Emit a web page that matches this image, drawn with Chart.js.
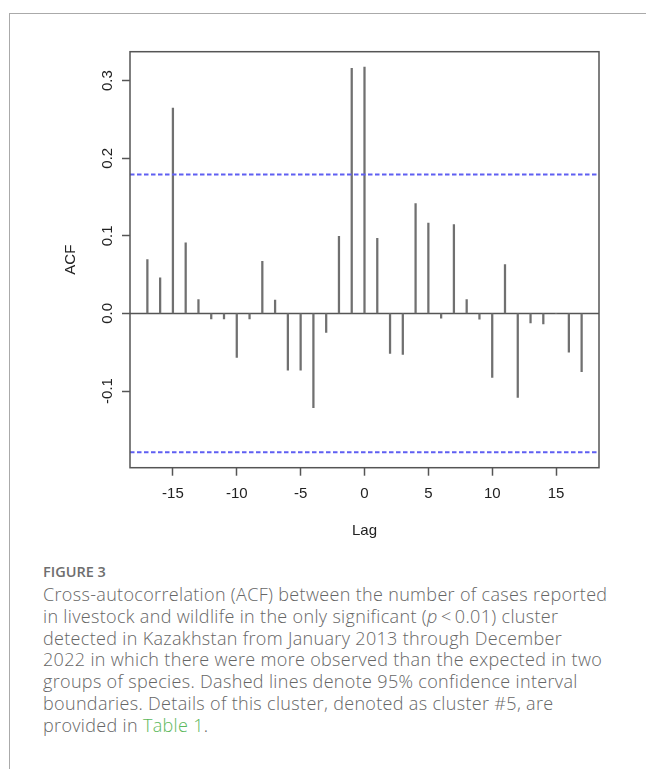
<!DOCTYPE html>
<html lang="en">
<head>
    <meta charset="UTF-8">
    <title>Cross-autocorrelation (ACF)</title>
    <script src="https://cdn.jsdelivr.net/npm/chart.js"></script>
    <style>
        body { margin: 0; width: 646px; height: 769px; background: #fff; position: relative; overflow: hidden; }
        #frame { position: absolute; left: 9px; top: 13px; right: -2px; bottom: -2px; border-top: 1px solid #aaa; border-left: 1px solid #aaa; }
        #chartBox { position: absolute; left: 0; top: 0; width: 646px; height: 550px; }
        .fig-label { position: absolute; left: 43px; top: 561px; font-family: "Open Sans", sans-serif; font-weight: 600; font-size: 14.5px; line-height: 21.7px; color: #6e6e6e; }
        .caption { position: absolute; left: 43px; top: 584px; font-family: "Open Sans", sans-serif; font-weight: 300; font-size: 18px; letter-spacing: 0.33px; line-height: 21.8px; color: #666; white-space: nowrap; margin: 0; }
        .caption a { color: #5cb85c; text-decoration: none; }
    </style>
</head>
<body>
    <div id="frame"></div>
    <div id="chartBox"><canvas id="acfChart" width="646" height="550"></canvas></div>
    <div class="fig-label">FIGURE 3</div>
    <p class="caption">Cross-autocorrelation (ACF) between the number of cases reported<br>in livestock and wildlife in the only significant (<i>p</i>&#8201;&lt;&#8201;0.01) cluster<br>detected in Kazakhstan from January 2013 through December<br>2022 in which there were more observed than the expected in two<br>groups of species. Dashed lines denote 95% confidence interval<br>boundaries. Details of this cluster, denoted as cluster #5, are<br>provided in <a href="#">Table 1</a>.</p>

    <script>
        // lags and cross-correlation values
        const lags = [-17, -16, -15, -14, -13, -12, -11, -10, -9, -8, -7, -6, -5, -4, -3, -2, -1,
                      0, 1, 2, 3, 4, 5, 6, 7, 8, 9, 10, 11, 12, 13, 14, 15, 16, 17];
        const acfValues = [0.0695, 0.0458, 0.2646, 0.0909, 0.0180, -0.0072, -0.0072, -0.0566, -0.0072, 0.0673, 0.0171, -0.0730, -0.0730, -0.1215, -0.0245, 0.0995, 0.3160,
                           0.3174, 0.0969, -0.0515, -0.0528, 0.1416, 0.1166, -0.0060, 0.1145, 0.0180, -0.0073, -0.0824, 0.0631, -0.1081, -0.0121, -0.0134, 0.0000, -0.0498, -0.0751];
        const ciBound = 0.1789; // dashed 95% bounds
        const xTicks = [-15, -10, -5, 0, 5, 10, 15];
        const yTicks = [-0.1, 0.0, 0.1, 0.2, 0.3];
        const xRange = [-18.36, 18.36];
        const yRange = [-0.1988, 0.3373];

        const axisFont = { family: '"Liberation Sans", Arial, sans-serif', size: 15 };
        const axisColor = '#222';
        const lineColor = '#555';

        // box, zero line, CI lines and rotated y labels, like R's plot.acf
        const acfDecor = {
            id: 'acfDecor',
            beforeDatasetsDraw(chart) {
                const { ctx, chartArea: a, scales: { y } } = chart;
                ctx.save();
                ctx.strokeStyle = lineColor;
                ctx.lineWidth = 1.5;
                const y0 = y.getPixelForValue(0);
                ctx.beginPath();
                ctx.moveTo(a.left, y0);
                ctx.lineTo(a.right, y0);
                ctx.stroke();
                ctx.restore();
            },
            afterDraw(chart) {
                const { ctx, chartArea: a, scales: { y } } = chart;
                ctx.save();
                ctx.strokeStyle = '#5f5ff2';
                ctx.lineWidth = 2;
                ctx.setLineDash([4.5, 2.5]);
                [ciBound, -ciBound].forEach(v => {
                    const py = y.getPixelForValue(v);
                    ctx.beginPath();
                    ctx.moveTo(a.left, py);
                    ctx.lineTo(a.right, py);
                    ctx.stroke();
                });
                ctx.setLineDash([]);
                ctx.strokeStyle = lineColor;
                ctx.lineWidth = 1.5;
                ctx.strokeRect(a.left, a.top, a.right - a.left, a.bottom - a.top);

                ctx.fillStyle = axisColor;
                ctx.font = `${axisFont.size}px ${axisFont.family}`;
                ctx.textAlign = 'center';
                ctx.textBaseline = 'alphabetic';
                y.ticks.forEach(t => {
                    ctx.save();
                    ctx.translate(a.left - 18.5, y.getPixelForValue(t.value));
                    ctx.rotate(-Math.PI / 2);
                    ctx.fillText(t.label, 0, 0);
                    ctx.restore();
                });
                ctx.restore();
            }
        };

        new Chart(document.getElementById('acfChart'), {
            type: 'bar',
            data: {
                datasets: [{
                    data: lags.map((l, i) => ({ x: l, y: acfValues[i] })),
                    backgroundColor: '#707070',
                    barThickness: 1.6
                }]
            },
            options: {
                responsive: false,
                animation: false,
                layout: { padding: { left: 55, right: 47, top: 51.7, bottom: 7.3 } },
                plugins: { legend: { display: false }, tooltip: { enabled: false } },
                scales: {
                    x: {
                        type: 'linear',
                        min: xRange[0],
                        max: xRange[1],
                        offset: false,
                        afterBuildTicks: s => { s.ticks = xTicks.map(v => ({ value: v })); },
                        afterFit: s => { s.height = 75; },
                        ticks: { font: axisFont, color: axisColor, padding: 9, maxRotation: 0 },
                        grid: { drawOnChartArea: false, offset: false, tickLength: 8, tickWidth: 1.5, tickColor: lineColor },
                        border: { display: false },
                        title: { display: true, text: 'Lag', font: axisFont, color: axisColor, padding: { top: 0, bottom: 2.8 } }
                    },
                    y: {
                        min: yRange[0],
                        max: yRange[1],
                        afterBuildTicks: s => { s.ticks = yTicks.map(v => ({ value: v })); },
                        afterFit: s => { s.width = 75; },
                        ticks: { display: false, callback: v => v.toFixed(1) },
                        grid: { drawOnChartArea: false, tickLength: 8, tickWidth: 1.5, tickColor: lineColor },
                        border: { display: false },
                        title: { display: true, text: 'ACF', font: axisFont, color: axisColor, padding: { top: 7, bottom: 0 } }
                    }
                }
            },
            plugins: [acfDecor]
        });
    </script>
</body>
</html>
